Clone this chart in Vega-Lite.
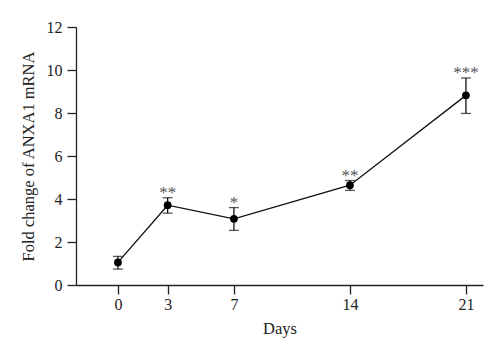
{
  "$schema": "https://vega.github.io/schema/vega-lite/v6.json",
  "width": 407,
  "height": 258,
  "autosize": "none",
  "padding": {"left": 76, "top": 27, "right": 17, "bottom": 73},
  "background": "white",
  "config": {
    "view": {"stroke": null},
    "font": "Liberation Serif",
    "axis": {
      "labelFont": "Liberation Serif",
      "titleFont": "Liberation Serif",
      "labelFontSize": 16,
      "titleFontSize": 16.5,
      "titleFontWeight": "normal",
      "labelColor": "#222",
      "titleColor": "#222",
      "domainColor": "#222",
      "tickColor": "#222",
      "domainWidth": 1.3,
      "tickWidth": 1.3,
      "tickSize": 9,
      "grid": false
    }
  },
  "data": {
    "values": [
      {"day": 0, "mean": 1.05, "lower": 0.74, "upper": 1.33, "sig": ""},
      {"day": 3, "mean": 3.71, "lower": 3.34, "upper": 4.06, "sig": "**"},
      {"day": 7, "mean": 3.08, "lower": 2.54, "upper": 3.6, "sig": "*"},
      {"day": 14, "mean": 4.64, "lower": 4.4, "upper": 4.86, "sig": "**"},
      {"day": 21, "mean": 8.82, "lower": 7.98, "upper": 9.63, "sig": "***"}
    ]
  },
  "encoding": {
    "x": {
      "field": "day",
      "type": "quantitative",
      "scale": {"domain": [-2.53, 22.03], "nice": false, "zero": false},
      "axis": {"values": [0, 3, 7, 14, 21], "title": "Days", "labelPadding": 2, "titlePadding": 8}
    }
  },
  "layer": [
    {
      "mark": {"type": "rule", "color": "#111", "strokeWidth": 1.3},
      "encoding": {
        "y": {"field": "lower", "type": "quantitative",
          "scale": {"domain": [0, 12], "nice": false},
          "axis": {"values": [0, 2, 4, 6, 8, 10, 12], "title": "Fold change of ANXA1 mRNA", "labelPadding": 5, "titlePadding": 10}},
        "y2": {"field": "upper"}
      }
    },
    {
      "mark": {"type": "tick", "orient": "horizontal", "color": "#111", "thickness": 1.3, "size": 10},
      "encoding": {"y": {"field": "upper", "type": "quantitative"}}
    },
    {
      "mark": {"type": "tick", "orient": "horizontal", "color": "#111", "thickness": 1.3, "size": 10},
      "encoding": {"y": {"field": "lower", "type": "quantitative"}}
    },
    {
      "mark": {"type": "line", "color": "#111", "strokeWidth": 1.3},
      "encoding": {"y": {"field": "mean", "type": "quantitative"}}
    },
    {
      "mark": {"type": "point", "filled": true, "opacity": 1, "color": "#000", "size": 60, "shape": "circle"},
      "encoding": {"y": {"field": "mean", "type": "quantitative"}}
    },
    {
      "mark": {"type": "text", "baseline": "alphabetic", "dy": 0, "fontSize": 17, "color": "#555555", "font": "Liberation Serif"},
      "encoding": {
        "y": {"field": "upper", "type": "quantitative"},
        "text": {"field": "sig"}
      }
    }
  ]
}
